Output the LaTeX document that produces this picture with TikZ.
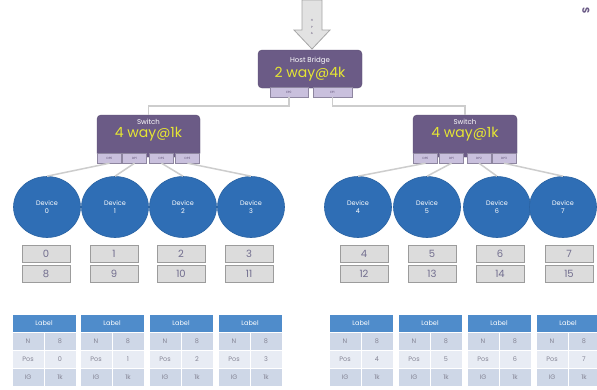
\documentclass[tikz,border=0pt]{standalone}
\usepackage{fontspec}
\setmainfont{Poppins}
\usetikzlibrary{shapes.geometric}

\definecolor{hbpurple}{HTML}{6B5B86}
\definecolor{hbedge}{HTML}{5A4C72}
\definecolor{portfill}{HTML}{C9C0DD}
\definecolor{portedge}{HTML}{8E86A0}
\definecolor{wayyellow}{HTML}{E6E633}
\definecolor{devblue}{HTML}{2F6EB5}
\definecolor{devedge}{HTML}{2A63A3}
\definecolor{boxfill}{HTML}{DCDCDC}
\definecolor{boxedge}{HTML}{9C9C9C}
\definecolor{numtext}{HTML}{716D8E}
\definecolor{hdrblue}{HTML}{4F8CCB}
\definecolor{rowdark}{HTML}{CED7E7}
\definecolor{rowlight}{HTML}{E8ECF4}
\definecolor{celltext}{HTML}{858595}
\definecolor{wire}{HTML}{CDCDCD}
\definecolor{arrowfill}{HTML}{E2E2E2}
\definecolor{arrowedge}{HTML}{A6A6A6}

\tikzset{
  fsz/.style={font=\fontsize{#1}{#1}\selectfont},
  hub/.style={draw=hbedge, fill=hbpurple, rounded corners=4pt, inner sep=0pt,
              text=white, align=center},
  portbox/.style={draw=portedge, fill=portfill, minimum height=10pt, inner sep=0pt,
                  text=hbedge, fsz=3},
  wirel/.style={draw=wire, line width=1.5pt},
  device/.style={ellipse, draw=devedge, line width=0.6pt, fill=devblue,
                 minimum width=67pt, minimum height=61pt, inner sep=0pt,
                 text=white, align=center, font=\fontsize{6.5}{8}\selectfont},
  numbox/.style={draw=boxedge, fill=boxfill, minimum width=48pt, minimum height=17pt,
                 inner sep=0pt, text=numtext, fsz=10},
  hdr/.style={draw=white, line width=0.8pt, fill=hdrblue, minimum width=64pt,
              minimum height=18pt, inner sep=0pt, text=white, fsz=6.5},
  cellA/.style={draw=white, line width=0.8pt, fill=rowdark, minimum width=32pt,
                minimum height=18pt, inner sep=0pt, text=celltext, fsz=6.5},
  cellB/.style={cellA, fill=rowlight},
}

\begin{document}
\begin{tikzpicture}[x=1pt, y=-1pt]
  \useasboundingbox (0,0) rectangle (597,389);
  \fill[white] (0,0) rectangle (597,389);

  % incoming bus arrow
  \draw[arrowedge, fill=arrowfill, line width=0.8pt]
    (302,0) -- (322,0) -- (322,30) -- (330,30) -- (312,49) -- (294,30) -- (302,30) -- cycle;
  \node[text=hbedge, align=center, font=\fontsize{3}{6.5}\selectfont] (hpa) at (312,27) {H\\P\\A};

  % page mark
  \node[text=hbpurple, rotate=-90, font=\bfseries\fontsize{10}{10}\selectfont] (mark) at (586,11) {S};

  % host bridge
  \node[hub, minimum width=104pt, minimum height=38pt] (host) at (310,69)
    {{\fontsize{7}{9}\selectfont Host Bridge}\\[2pt]{\fontsize{14}{14}\selectfont\color{wayyellow}2 way@4k}};
  \node[portbox, minimum width=38pt] (hp0) at (289,92) {EP0};
  \node[portbox, minimum width=39pt] (hp1) at (332.5,92) {EP1};

  % switches
  \node[hub, minimum width=103pt, minimum height=42pt] (sw0) at (148.5,136)
    {{\fontsize{7}{9}\selectfont Switch}\\[1pt]{\fontsize{14}{14}\selectfont\color{wayyellow}4 way@1k}\\[3pt]};
  \node[hub, minimum width=104pt, minimum height=42pt] (sw1) at (465,136)
    {{\fontsize{7}{9}\selectfont Switch}\\[1pt]{\fontsize{14}{14}\selectfont\color{wayyellow}4 way@1k}\\[3pt]};

  \foreach \i/\x in {0/109.5,1/134.5,2/161.5,3/187.5,4/425.5,5/451.5,6/479,7/504} {
    \pgfmathtruncatemacro\k{mod(\i,4)}
    \node[portbox, minimum width=24pt] (sp\i) at (\x,158) {DP\k};
  }

  % host bridge to switches
  \draw[wirel] (hp0.south) -- ++(0,9) -| (sw0.north);
  \draw[wirel] (hp1.south) -- ++(0,9) -| (sw1.north);

  % devices and their number boxes
  \foreach \i/\x/\b/\c in {0/47/46/8, 1/115/114/9, 2/183/181/10, 3/251/249/11,
                          4/358/364/12, 5/427/432/13, 6/497/500/14, 7/563/569/15} {
    \node[device] (dev\i) at (\x,207) {Device\\\i};
    \node[numbox] (top\i) at (\b,253.5) {\i};
    \node[numbox] (bot\i) at (\b,273.5) {\c};
    \draw[wirel] (sp\i.south) -- (dev\i.north);
  }

  % label tables
  \foreach \i/\x in {0/12,1/80,2/149,3/218,4/329,5/398,6/467,7/536} {
    \node[hdr] (t\i-h) at (\x+32,323) {Label};
    \node[cellA] (t\i-n) at (\x+16,341) {N};
    \node[cellA] (t\i-nv) at (\x+48,341) {8};
    \node[cellB] (t\i-p) at (\x+16,359) {Pos};
    \node[cellB] (t\i-pv) at (\x+48,359) {\i};
    \node[cellA] (t\i-g) at (\x+16,377) {IG};
    \node[cellA] (t\i-gv) at (\x+48,377) {1k};
  }
\end{tikzpicture}
\end{document}
